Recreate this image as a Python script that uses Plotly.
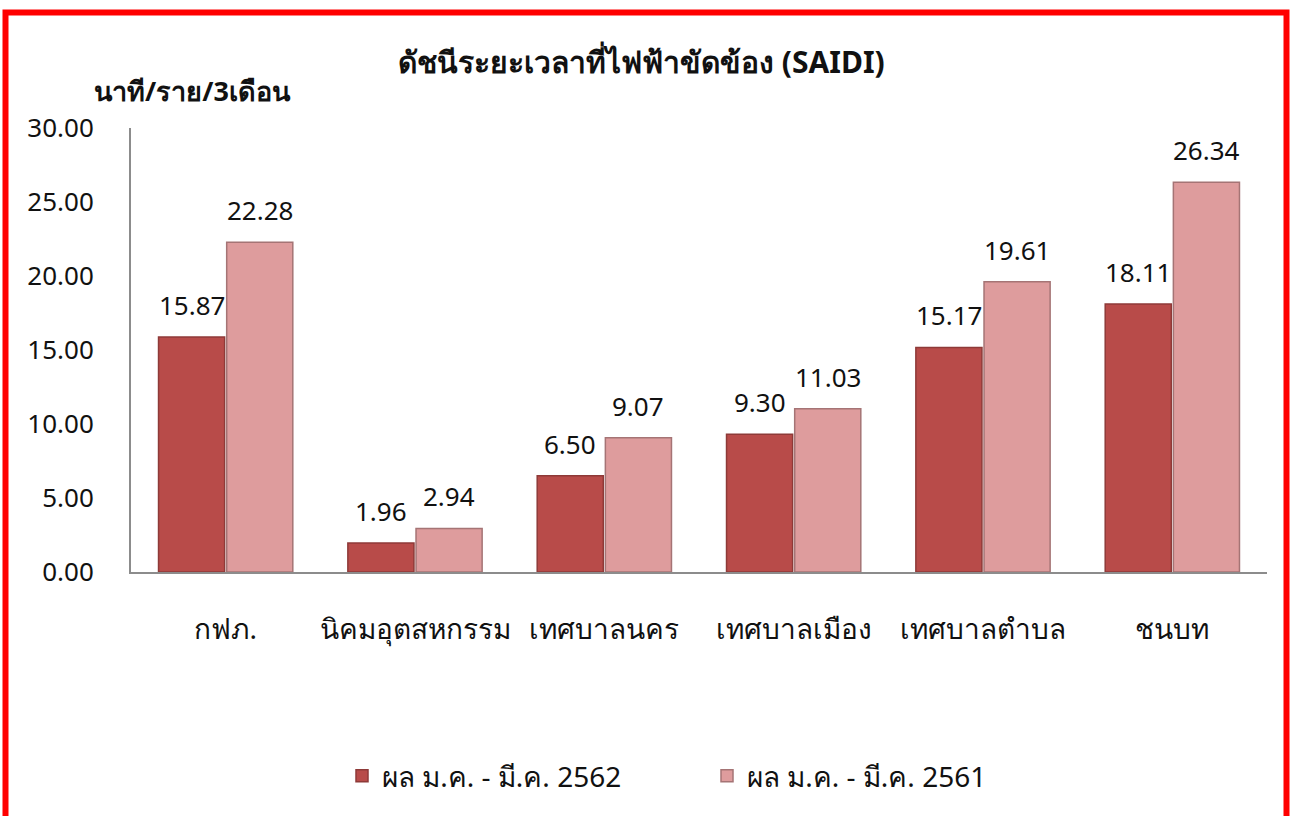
import plotly.graph_objects as go

categories = ["กฟภ.", "นิคมอุตสหกรรม", "เทศบาลนคร", "เทศบาลเมือง", "เทศบาลตำบล", "ชนบท"]
series_2562 = [15.87, 1.96, 6.50, 9.30, 15.17, 18.11]
series_2561 = [22.28, 2.94, 9.07, 11.03, 19.61, 26.34]
name_2562 = "ผล ม.ค. - มี.ค. 2562"
name_2561 = "ผล ม.ค. - มี.ค. 2561"
y_ticks = [0, 5, 10, 15, 20, 25, 30]

W, H = 1290, 816
L, R, T, B = 131, 23, 128, 244
pw, ph = W - L - R, H - T - B
BARGAP, GROUPGAP = 0.28, 0.03

def px(x):
    return (x - L) / pw

def py(y):
    return (H - B - y) / ph

FONT = "Noto Sans, DejaVu Sans, sans-serif"

fig = go.Figure()
fig.add_trace(go.Bar(
    x=categories, y=series_2562, name=name_2562,
    marker=dict(color="#b84b49", line=dict(color="#8e3a38", width=1.5)),
))
fig.add_trace(go.Bar(
    x=categories, y=series_2561, name=name_2561,
    marker=dict(color="#de9c9d", line=dict(color="#a57475", width=1.5)),
))

# data labels placed above each bar, offset horizontally to the bar's slot
cat_w = pw / len(categories)
slot = cat_w * (1 - BARGAP) / 2
annotations = []
for series, sign in ((series_2562, -1), (series_2561, 1)):
    for c, v in zip(categories, series):
        annotations.append(dict(
            x=c, y=v, xref="x", yref="y", text=f"{v:.2f}", showarrow=False,
            xanchor="center", yanchor="middle", xshift=sign * slot / 2, yshift=32,
            font=dict(size=26, color="#111111"),
        ))

annotations += [
    dict(text="<b>ดัชนีระยะเวลาที่ไฟฟ้าขัดข้อง (SAIDI)</b>", xref="paper", yref="paper",
         x=px(641), y=py(62), xanchor="center", yanchor="middle", showarrow=False,
         font=dict(size=30)),
    dict(text="<b>นาที/ราย/3เดือน</b>", xref="paper", yref="paper",
         x=px(192), y=py(90), xanchor="center", yanchor="middle", showarrow=False,
         font=dict(size=27)),
]

fig.update_layout(
    width=W, height=H,
    margin=dict(l=L, r=R, t=T, b=B),
    paper_bgcolor="white", plot_bgcolor="white",
    font=dict(family=FONT, size=24, color="#111111"),
    barmode="group", bargap=BARGAP, bargroupgap=GROUPGAP,
    showlegend=True,
    legend=dict(orientation="h", x=px(342), xanchor="left", y=py(776), yanchor="middle",
                font=dict(size=28), entrywidth=320, entrywidthmode="pixels",
                traceorder="normal"),
    xaxis=dict(showline=True, linecolor="#8c8c8c", linewidth=2, ticks="",
               ticklabelstandoff=31, tickfont=dict(size=28), showgrid=False),
    yaxis=dict(range=[0, 30], tickvals=y_ticks, tickformat=".2f", showline=True,
               linecolor="#8c8c8c", linewidth=2, ticks="", showgrid=False, zeroline=False,
               ticklabelstandoff=30, tickfont=dict(size=26)),
    annotations=annotations,
    shapes=[
        dict(type="rect", xref="paper", yref="paper", x0=px(5.5), x1=px(1286.5),
             y0=py(840), y1=py(12.5), line=dict(color="#ff0000", width=6), fillcolor="rgba(0,0,0,0)",
             layer="above"),
    ],
)

fig.write_html("out.html", config={"displayModeBar": False},
               post_script="document.body.style.margin='0px';document.body.style.overflow='hidden';")
